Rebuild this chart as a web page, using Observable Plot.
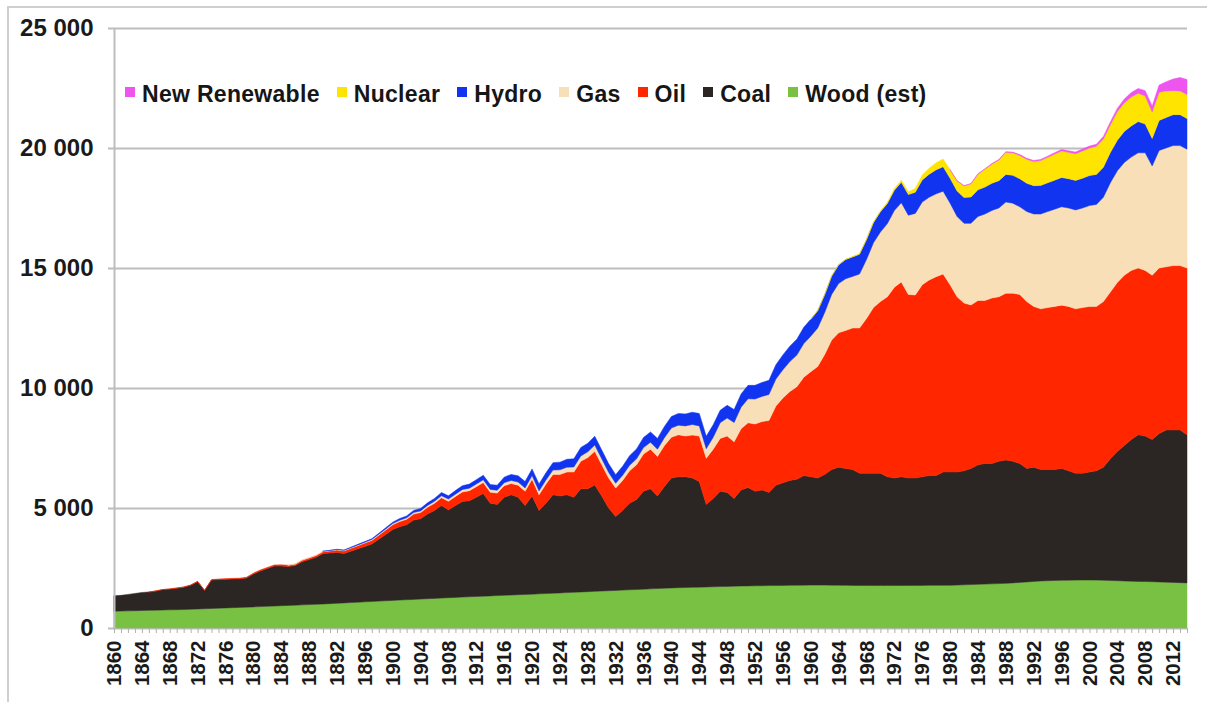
<!DOCTYPE html>
<html>
<head>
<meta charset="utf-8">
<script src="https://cdn.jsdelivr.net/npm/d3@7"></script>
<script src="https://cdn.jsdelivr.net/npm/@observablehq/plot@0.6"></script>
<style>
  body { margin: 0; background: #fff; font-family: "Liberation Sans", Arial, sans-serif; }
  #wrap { position: relative; width: 1214px; height: 702px; overflow: hidden; }
  #frame { position: absolute; left: 7px; top: 6px; width: 1200px; height: 700px;
           border-left: 2px solid #cfcfcf; border-top: 2px solid #cfcfcf; box-sizing: border-box; }
  #chart { position: absolute; left: 0; top: 0; }
  #legend { position: absolute; left: 125px; top: 81px; display: flex; gap: 17px;
            font-size: 23px; font-weight: bold; color: #161616; white-space: nowrap; letter-spacing: 0.3px; }
  #legend .item { display: flex; align-items: center; }
  #legend .sw { width: 10px; height: 10px; margin-right: 7px; position: relative; top: -3px; }
</style>
</head>
<body>
<div id="wrap">
  <div id="frame"></div>
  <div id="chart"></div>
  <div id="legend"></div>
</div>
<script>
// ---- series (stack order bottom -> top) ----
const seriesNames = ["Wood (est)", "Coal", "Oil", "Gas", "Hydro", "Nuclear", "New Renewable"];
const seriesColors = ["#79c143", "#2b2623", "#ff2600", "#f9dfb8", "#1034ef", "#ffe400", "#ee55ee"];
const legendOrder = ["New Renewable", "Nuclear", "Hydro", "Gas", "Oil", "Coal", "Wood (est)"];

// tick labels
const yTicks = [0, 5000, 10000, 15000, 20000, 25000];
const firstYear = 1860;
const lastYear = 2014;
const labelYears = [1860,1864,1868,1872,1876,1880,1884,1888,1892,1896,1900,1904,1908,1912,1916,1920,1924,1928,1932,1936,1940,1944,1948,1952,1956,1960,1964,1968,1972,1976,1980,1984,1988,1992,1996,2000,2004,2008,2012];

// values per year, each series starting at its own first year
const woodStart = 1860;
const wood = [
 700,707,714,721,728,735,742,749,756,763,
 770,781,792,803,814,825,836,847,858,869,
 880,892,904,916,928,940,952,964,976,988,
 1000,1015,1030,1045,1060,1075,1090,1105,1120,1135,
 1150,1164,1178,1192,1206,1220,1234,1248,1262,1276,
 1290,1302,1314,1326,1338,1350,1362,1374,1386,1398,
 1410,1423,1436,1449,1462,1475,1488,1501,1514,1527,
 1540,1553,1566,1579,1592,1605,1618,1631,1644,1657,
 1670,1678,1686,1694,1702,1710,1718,1726,1734,1742,
 1750,1754,1758,1762,1766,1770,1774,1778,1782,1786,
 1790,1790,1788,1785,1780,1778,1775,1772,1770,1770,
 1770,1770,1770,1772,1772,1775,1775,1778,1778,1780,
 1780,1790,1800,1810,1820,1830,1840,1850,1860,1880,
 1900,1920,1940,1960,1970,1980,1985,1990,1995,2000,
 2000,1995,1990,1980,1970,1960,1950,1940,1935,1930,
 1920,1910,1900,1890,1880
];
const coalStart = 1860;
const coal = [
 640,653,686,719,752,765,798,851,864,897,
 930,999,1138,757,1186,1195,1194,1193,1192,1211,
 1370,1488,1576,1664,1652,1620,1648,1796,1874,1962,
 2100,2105,2120,2055,2140,2225,2310,2395,2580,2765,
 2950,3056,3122,3308,3344,3530,3666,3852,3658,3824,
 3980,3998,4136,4274,3862,3800,4088,4176,4064,3702,
 4090,3477,3764,4101,4038,4075,3962,4299,4286,4433,
 3960,3447,3084,3321,3608,3745,4082,4169,3856,4243,
 4580,4622,4614,4556,4398,3440,3682,3974,3916,3658,
 4000,4096,3942,3988,3884,4180,4276,4372,4418,4564,
 4510,4460,4612,4815,4920,4872,4825,4678,4680,4680,
 4680,4530,4480,4528,4478,4475,4525,4572,4572,4720,
 4720,4710,4750,4840,4980,5020,5010,5100,5140,5070,
 4950,4730,4760,4640,4630,4620,4665,4560,4455,4450,
 4500,4555,4710,5070,5380,5640,5900,6110,6065,5920,
 6180,6340,6350,6360,6170
];
const oilStart = 1865;
const oil = [
 2,4,6,8,10,
 12,14,16,18,20,22,24,26,28,32,
 36,40,44,48,52,56,60,65,70,75,
 80,90,100,110,120,130,140,150,165,180,
 200,215,230,245,260,280,300,330,360,380,
 400,420,440,460,460,470,480,470,500,600,
 700,650,800,850,900,950,1050,1150,1300,1400,
 1300,1250,1180,1250,1350,1450,1550,1650,1650,1700,
 1700,1750,1700,1790,1900,1920,2050,2200,2350,2360,
 2550,2700,2800,2850,3000,3300,3530,3700,3850,4100,
 4380,4650,5000,5400,5600,5750,5900,6050,6450,6900,
 7150,7500,7950,8120,7650,7625,8000,8150,8290,8250,
 7800,7300,6990,6810,6850,6800,6900,6850,6950,7000,
 7050,6950,6700,6700,6750,6800,6800,6850,6850,6900,
 6900,6850,6900,6950,7050,7100,7050,6950,6900,6850,
 6900,6800,6850,6850,6950
];
const gasStart = 1885;
const gas = [
 5,8,10,12,15,
 18,20,22,25,28,30,33,36,40,45,
 50,55,60,65,70,75,80,85,90,95,
 100,105,110,115,115,120,125,130,130,135,
 150,160,170,180,190,200,210,220,240,260,
 250,230,200,210,230,250,270,290,300,330,
 380,400,420,440,420,400,500,650,750,800,
 900,1000,1040,1050,1080,1120,1180,1250,1320,1400,
 1480,1600,1750,1900,2050,2150,2150,2250,2450,2700,
 2900,3050,3200,3300,3300,3400,3450,3450,3450,3450,
 3400,3350,3320,3400,3500,3600,3650,3700,3800,3750,
 3650,3750,3850,3950,4000,4050,4100,4100,4120,4150,
 4200,4250,4350,4550,4650,4700,4720,4800,4900,4550,
 4900,4950,5000,5000,4950
];
const hydroStart = 1890;
const hydro = [
 5,8,10,15,20,25,30,35,40,50,
 60,70,80,90,100,110,120,130,140,150,
 160,170,180,190,200,210,230,250,260,270,
 280,290,300,310,320,330,340,350,360,370,
 370,360,360,380,400,410,420,430,450,470,
 480,490,500,510,520,520,520,520,530,540,
 550,560,570,580,590,600,620,640,660,680,
 700,720,740,760,780,800,810,820,830,840,
 840,840,840,850,860,880,920,960,1000,1020,
 1040,1060,1080,1100,1110,1120,1130,1140,1150,1160,
 1170,1180,1180,1190,1200,1210,1220,1220,1230,1240,
 1250,1250,1250,1260,1270,1290,1300,1300,1200,1150,
 1250,1270,1290,1290,1280
];
const nuclearStart = 1960;
const nuclear = [
 0,0,5,5,10,10,15,20,25,30,
 40,50,70,90,120,160,200,250,300,320,
 350,420,480,550,650,750,800,860,920,940,
 970,1000,1010,1040,1060,1090,1110,1100,1110,1140,
 1150,1170,1180,1160,1200,1200,1210,1180,1170,1100,
 1170,1110,1000,990,1000
];
const renewStart = 1980;
const renew = [
 5,8,10,12,15,18,20,22,25,30,
 35,38,40,45,50,55,60,65,70,75,
 80,90,100,115,130,150,180,200,220,250,
 300,380,480,560,620
];

// ---- long table ----
const rows = [];
function addSeries(name, start, values) {
  values.forEach((v, i) => rows.push({ year: start + i, type: name, value: v }));
}
addSeries("Wood (est)", woodStart, wood);
addSeries("Coal", coalStart, coal);
addSeries("Oil", oilStart, oil);
addSeries("Gas", gasStart, gas);
addSeries("Hydro", hydroStart, hydro);
addSeries("Nuclear", nuclearStart, nuclear);
addSeries("New Renewable", renewStart, renew);

const allYears = d3.range(firstYear, lastYear + 1);
const fmt = d => d3.format(",")(d).replace(/,/g, " ");
const colorOf = Object.fromEntries(seriesNames.map((n, i) => [n, seriesColors[i]]));

const chart = Plot.plot({
  width: 1214,
  height: 702,
  marginLeft: 114,
  marginRight: 27,
  marginTop: 28,
  marginBottom: 74,
  style: { fontFamily: "Liberation Sans, Arial, sans-serif", background: "transparent", overflow: "visible" },
  x: { domain: [firstYear, lastYear], label: null },
  y: { domain: [0, 25000], label: null },
  color: { domain: seriesNames, range: seriesColors },
  marks: [
    Plot.gridY(yTicks, { stroke: "#bdbdbd", strokeOpacity: 1, strokeWidth: 2 }),
    Plot.areaY(rows, {
      x: "year", y: "value", fill: "type", stroke: "type", strokeWidth: 0.5,
      order: seriesNames, curve: "linear"
    }),
    Plot.ruleX([firstYear], { stroke: "#bdbdbd", strokeWidth: 2 }),
    Plot.axisY({
      ticks: yTicks, tickSize: 6, tickPadding: 15, stroke: "#bdbdbd", strokeWidth: 2,
      tickFormat: fmt, fontSize: 24, fontWeight: "bold", fill: "#1a1a1a", label: null
    }),
    Plot.axisX({ ticks: allYears, tickSize: 5, stroke: "#b0b0b0", fill: "none", label: null, tickFormat: () => "" }),
    Plot.axisX({
      ticks: labelYears, tickSize: 0, tickPadding: 12, tickRotate: -90,
      tickFormat: d => String(d), fontSize: 20.5, fontWeight: "bold", fill: "#1a1a1a", label: null
    })
  ]
});
document.getElementById("chart").appendChild(chart);

// ---- legend (HTML, over the plot area) ----
const legend = document.getElementById("legend");
legendOrder.forEach(name => {
  const item = document.createElement("span");
  item.className = "item";
  const sw = document.createElement("span");
  sw.className = "sw";
  sw.style.background = colorOf[name];
  const tx = document.createElement("span");
  tx.textContent = name;
  item.appendChild(sw);
  item.appendChild(tx);
  legend.appendChild(item);
});
</script>
</body>
</html>
